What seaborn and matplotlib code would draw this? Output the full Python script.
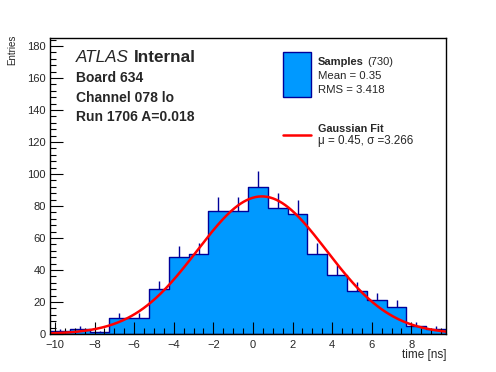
import numpy as np
import pandas as pd
import matplotlib
matplotlib.use("Agg")
from matplotlib import pyplot as plt
import seaborn as sns

# histogram contents (20 bins of 1 ns)
x_lo, x_hi = -10.25, 9.75
counts = [2, 3, 1, 10, 10, 28, 48, 50, 77, 77,
          92, 79, 75, 50, 37, 27, 21, 17, 5, 3]

# fit parameters shown in the legend
fit_mu = 0.45
fit_sigma = 3.266
fit_amp = 86.0

n_entries = 730
sample_mean = 0.35
sample_rms = 3.418

label_lines = ["Board 634", "Channel 078 lo", "Run 1706 A=0.018"]

fill_col = "#0099ff"
edge_col = "#000099"

sns.set_style("ticks")
plt.rcParams['font.family'] = ['Liberation Sans', 'DejaVu Sans']

centers = np.arange(x_lo + 0.5, x_hi, 1.0)
df = pd.DataFrame({'time': centers, 'n': counts})

fig = plt.figure(figsize=(4.96, 3.72), dpi=100)
ax = fig.add_axes([50/496, 1 - 334/372, 396/496, 296/372])

# error bars, upper half shows above the fill
err = np.sqrt(df['n'])
ax.vlines(df['time'], df['n'], df['n'] + err, color=edge_col, lw=1.0, zorder=1)

sns.histplot(data=df, x='time', weights='n', binwidth=1.0, binrange=(x_lo, x_hi),
             element='step', fill=True, facecolor=fill_col, edgecolor=edge_col,
             alpha=1, linewidth=1.0, ax=ax, zorder=2)

# gaussian fit curve from the fitted parameters
xf = np.linspace(x_lo, x_hi, 400)
yf = fit_amp * np.exp(-0.5 * ((xf - fit_mu) / fit_sigma) ** 2)
ax.plot(xf, yf, color='#ff0000', lw=1.8, zorder=4)

ax.set_xlim(x_lo, x_hi)
ax.set_ylim(0, 185)
ax.set_xticks(np.arange(-10, 9, 2))
ax.set_xticks(np.arange(-10, 9.75, 0.5), minor=True)
ax.set_yticks(np.arange(0, 181, 20))
ax.set_yticks(np.arange(0, 185, 4), minor=True)
ax.tick_params(which='both', direction='in', labelsize=8, width=0.8,
               top=False, right=False, color='black')
ax.tick_params(which='major', length=9)
ax.tick_params(which='minor', length=4.5)
ax.tick_params(axis='x', pad=4)
ax.tick_params(axis='y', pad=3)
for s in ax.spines.values():
    s.set_visible(True)
    s.set_linewidth(1.0)
    s.set_color('black')
    s.set_zorder(5)
ax.set_axisbelow(False)

ax.set_xlabel("time [ns]", fontsize=8.5, loc='right')
ax.xaxis.set_label_coords(1.0, -0.052)
ax.set_ylabel("Entries", fontsize=7, loc='top')
ax.yaxis.set_label_coords(-0.083, 1.01)

# ATLAS label block
t = ax.text(0.065, 0.919, "ATLAS", style='italic', fontsize=12.3,
            transform=ax.transAxes, va='baseline')
ax.annotate("Internal", xy=(1, 0), xycoords=t, xytext=(3.5, 0),
            textcoords='offset points', fontsize=12.3, fontweight='bold', va='bottom')
for yy, s in zip([0.850, 0.785, 0.720], label_lines):
    ax.text(0.065, yy, s, fontsize=10, fontweight='bold',
            transform=ax.transAxes, va='baseline')

# legend drawn by hand, ROOT style
ax.add_patch(plt.Rectangle((0.589, 0.802), 0.070, 0.150, transform=ax.transAxes,
                           facecolor=fill_col, edgecolor=edge_col, lw=1, zorder=6))
t2 = ax.text(0.676, 0.909, "Samples", fontsize=8, fontweight='bold',
             transform=ax.transAxes, va='baseline')
ax.annotate("(%d)" % n_entries, xy=(1, 0), xycoords=t2, xytext=(2.5, 0),
            textcoords='offset points', fontsize=8, va='bottom')
ax.text(0.676, 0.860, "Mean = %.2f" % sample_mean, fontsize=8.2,
        transform=ax.transAxes, va='baseline')
ax.text(0.676, 0.815, "RMS = %.3f" % sample_rms, fontsize=8.2,
        transform=ax.transAxes, va='baseline')
ax.plot([0.589, 0.659], [0.673, 0.673], color='#ff0000', lw=1.8,
        transform=ax.transAxes, zorder=6)
ax.text(0.676, 0.683, "Gaussian Fit", fontsize=7.8, fontweight='bold',
        transform=ax.transAxes, va='baseline')
ax.text(0.676, 0.642, "\u03bc = %.2f, \u03c3 =%.3f" % (fit_mu, fit_sigma), fontsize=8.4,
        transform=ax.transAxes, va='baseline')

fig.savefig("out.png", dpi=100)
